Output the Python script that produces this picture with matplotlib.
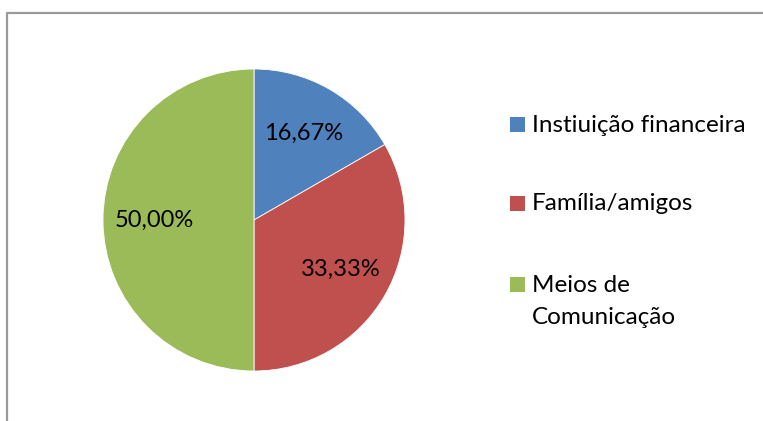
import matplotlib
matplotlib.use("Agg")
import matplotlib.pyplot as plt
from matplotlib.patches import Rectangle
from matplotlib.lines import Line2D

labels = ["Instiuição financeira", "Família/amigos", "Meios de\nComunicação"]
shares = [16.67, 33.33, 50.00]
colors = ["#4F81BD", "#C0504D", "#9BBB59"]

plt.rcParams['font.family'] = ['Lato', 'DejaVu Sans']

W, H = 763, 421
fig = plt.figure(figsize=(W / 100, H / 100), dpi=100)

# chart border (only top and left edges visible in the crop)
fig.add_artist(Line2D([7 / W, 7 / W, 1], [0, 1 - 13 / H, 1 - 13 / H],
                      transform=fig.transFigure, color="#9a9a9a", lw=1.6))

# pie: centre (254, 220), radius 151 px
cx, cy, r = 254, 220, 151
ax = fig.add_axes([(cx - r) / W, (H - cy - r) / H, 2 * r / W, 2 * r / H])
ax.pie(shares, colors=colors, startangle=90, counterclock=False,
       autopct=lambda p: f"{p:.2f}%".replace(".", ","), pctdistance=0.66,
       wedgeprops=dict(edgecolor="white", linewidth=0.6),
       textprops=dict(fontsize=17, color="black"))
ax.set_xlim(-1, 1)
ax.set_ylim(-1, 1)
ax.set_aspect("equal")
ax.axis("off")

# legend drawn by hand so the square sits on the first text line
row_y = [125, 204, 285]
line_gap = 33
for lab, col, y in zip(labels, colors, row_y):
    fig.add_artist(Rectangle((510 / W, (H - y - 7) / H), 15 / W, 15 / H,
                             transform=fig.transFigure, facecolor=col, edgecolor="none"))
    n = lab.count("\n")
    fig.text(532 / W, (H - y - n * line_gap / 2) / H, lab, fontsize=17.5,
             va="center", ha="left", linespacing=1.6)

fig.savefig("out.png", dpi=100)
